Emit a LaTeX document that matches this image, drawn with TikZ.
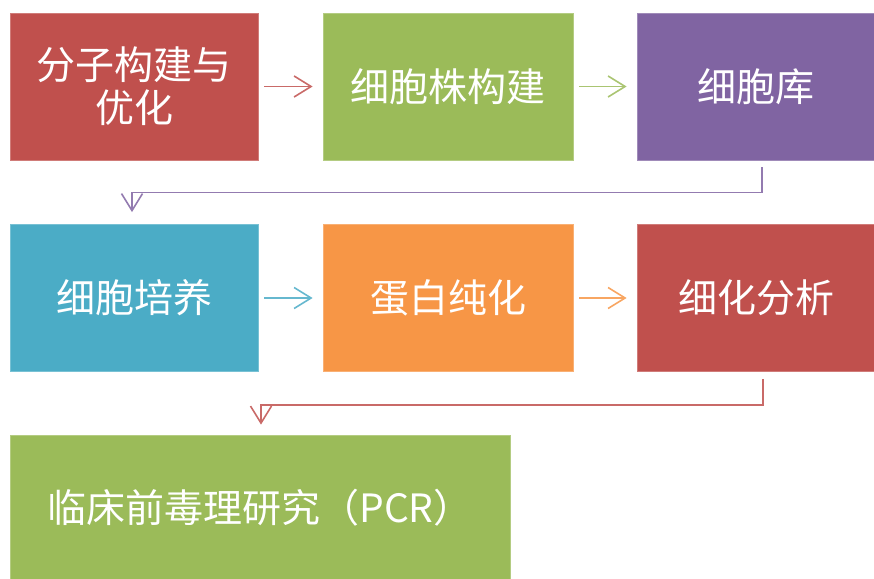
\documentclass[tikz,border=0pt]{standalone}
\usepackage{fontspec}
\newfontfamily\cjk{Noto Sans CJK SC}
\usetikzlibrary{arrows.meta}
\definecolor{bred}{HTML}{C0504D}
\definecolor{bgreen}{HTML}{9BBB59}
\definecolor{bpurple}{HTML}{8064A2}
\definecolor{bblue}{HTML}{4BACC6}
\definecolor{borange}{HTML}{F79646}
\tikzset{
  stepbox/.style={fill=#1, draw=#1!75!white, line width=0.8pt, text=white,
    minimum height=147, inner sep=0pt, align=center,
    font=\cjk\fontsize{39}{43}\selectfont},
  flow/.style={draw=#1!85!white, line width=1.6pt,
    -{Straight Barb[length=17pt,width=21pt,line width=1.6pt]}},
}
\begin{document}
\begin{tikzpicture}[x=1pt,y=-1pt]
      \useasboundingbox (0,0) rectangle (874,578);

      %Shape: Rectangle row 1
      \node [stepbox=bred, minimum width=248] (b1) at (134,86.5) {分子构建与\\优化};
      \node [stepbox=bgreen, minimum width=250] (b2) at (448,86.5) {细胞株构建};
      \node [stepbox=bpurple, minimum width=238] (b3) at (756,86.5) {细胞库};
      %Shape: Rectangle row 2
      \node [stepbox=bblue, minimum width=248] (b4) at (134,298) {细胞培养};
      \node [stepbox=borange, minimum width=250] (b5) at (448,298) {蛋白纯化};
      \node [stepbox=bred, minimum width=238] (b6) at (756,298) {细化分析};
      %Shape: Rectangle row 3
      \node [stepbox=bgreen, minimum width=500, minimum height=145] (b7) at (260,507.5) {临床前毒理研究（PCR）};

      %Straight Lines
      \draw [flow=bred, shorten <=6pt, shorten >=10pt] (b1.east) -- (b2.west);
      \draw [flow=bgreen, shorten <=6pt, shorten >=10pt] (b2.east) -- (b3.west);
      \draw [flow=bblue, shorten <=6pt, shorten >=10pt] (b4.east) -- (b5.west);
      \draw [flow=borange, shorten <=6pt, shorten >=10pt] (b5.east) -- (b6.west);
      %Elbow Lines
      \draw [flow=bpurple] ([xshift=6pt]b3.south) ++(0,7) -- ++(0,25) -| ([xshift=-2pt,yshift=12pt]b4.north);
      \draw [flow=bred] ([xshift=7pt]b6.south) ++(0,7) -- ++(0,26) -| ([xshift=1pt,yshift=10pt]b7.north);

\end{tikzpicture}
\end{document}
